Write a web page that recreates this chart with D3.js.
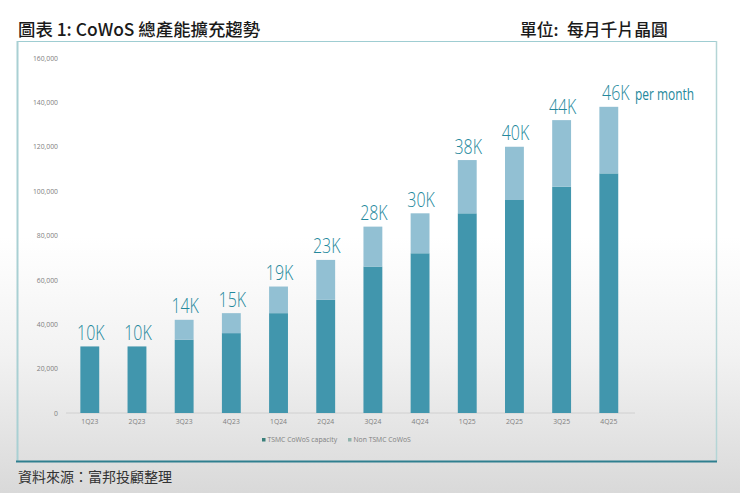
<!DOCTYPE html>
<html>
<head>
<meta charset="utf-8">
<script src="https://cdn.jsdelivr.net/npm/d3@7"></script>
<style>
  html, body { margin: 0; padding: 0; background: #fff; }
  svg { display: block; }
</style>
</head>
<body>
<script>
// values
const quarters = ['1Q23', '2Q23', '3Q23', '4Q23', '1Q24', '2Q24', '3Q24', '4Q24', '1Q25', '2Q25', '3Q25', '4Q25'];
const tsmcCapacity = [30000, 30000, 33000, 36000, 45000, 51000, 66000, 72000, 90000, 96000, 102000, 108000];
const nonTsmc = [0, 0, 9000, 9000, 12000, 18000, 18000, 18000, 24000, 24000, 30000, 30000];
const barLabels = ['10K', '10K', '14K', '15K', '19K', '23K', '28K', '30K', '38K', '40K', '44K', '46K'];
const yTicks = [0, 20000, 40000, 60000, 80000, 100000, 120000, 140000, 160000];
const seriesNames = ['TSMC CoWoS capacity', 'Non TSMC CoWoS'];

const width = 740;
const height = 493;
const cjk = '"Noto Sans CJK TC", "Noto Sans", sans-serif';
const axisFont = '"Open Sans", "Noto Sans", sans-serif';
const labelFont = '"Open Sans", "Noto Sans", sans-serif';

const svg = d3.select('body').append('svg')
  .attr('width', width)
  .attr('height', height);

// page fades from white to grey in the lower half
const defs = svg.append('defs');
const fade = defs.append('linearGradient')
  .attr('id', 'fade')
  .attr('x1', 0).attr('x2', 0).attr('y1', 0).attr('y2', 1);
fade.append('stop').attr('offset', '48%').attr('stop-color', '#ffffff');
fade.append('stop').attr('offset', '72%').attr('stop-color', '#f2f2f2');
fade.append('stop').attr('offset', '100%').attr('stop-color', '#d9d9d9');

svg.append('rect')
  .attr('width', width)
  .attr('height', height)
  .attr('fill', 'url(#fade)');

// frame
svg.append('line').attr('x1', 17).attr('x2', 717).attr('y1', 41.5).attr('y2', 41.5)
  .attr('stroke', '#9fcdd2').attr('stroke-width', 1);
svg.append('line').attr('x1', 17.5).attr('x2', 17.5).attr('y1', 41).attr('y2', 461)
  .attr('stroke', '#a9d0d3').attr('stroke-width', 2);
svg.append('line').attr('x1', 716.5).attr('x2', 716.5).attr('y1', 41).attr('y2', 461)
  .attr('stroke', '#b4d5d6').attr('stroke-width', 1.5);
svg.append('line').attr('x1', 16).attr('x2', 717).attr('y1', 461.5).attr('y2', 461.5)
  .attr('stroke', '#2f7f8f').attr('stroke-width', 2);

// headings
svg.append('text').attr('x', 18).attr('y', 36)
  .attr('font-family', cjk).attr('font-size', 17.4).attr('font-weight', 500).attr('fill', '#1a1a1a')
  .text('圖表 1: CoWoS 總產能擴充趨勢');
svg.append('text').attr('x', 520).attr('y', 36)
  .attr('font-family', cjk).attr('font-size', 16.8).attr('font-weight', 500).attr('fill', '#1a1a1a')
  .text('單位:');
svg.append('text').attr('x', 567).attr('y', 36)
  .attr('font-family', cjk).attr('font-size', 16.8).attr('font-weight', 500).attr('fill', '#1a1a1a')
  .text('每月千片晶圓');
svg.append('text').attr('x', 18).attr('y', 482)
  .attr('font-family', cjk).attr('font-size', 14).attr('fill', '#333333')
  .text('資料來源：富邦投顧整理');

const x = d3.scaleBand()
  .domain(quarters)
  .range([66.2, 632.4])
  .paddingInner(0.6)
  .paddingOuter(0.3);

const y = d3.scaleLinear()
  .domain([0, 160000])
  .range([413, 58]);

// axes
const xAxis = svg.append('g')
  .attr('transform', `translate(0, ${y(0)})`)
  .call(d3.axisBottom(x).tickSize(0).tickPadding(6));
xAxis.select('.domain').attr('stroke', '#d0d0d0').attr('d', 'M66,0H635');
xAxis.selectAll('text')
  .attr('font-family', axisFont).attr('font-size', 6.8).attr('fill', '#808080');

const yAxis = svg.append('g')
  .attr('transform', 'translate(58, 0)')
  .call(d3.axisLeft(y).tickValues(yTicks).tickSize(0).tickPadding(0).tickFormat(d3.format(',')));
yAxis.select('.domain').remove();
yAxis.selectAll('text')
  .attr('font-family', axisFont).attr('font-size', 6.8).attr('fill', '#808080');

// stacked bars
svg.append('g').selectAll('rect')
  .data(quarters)
  .join('rect')
  .attr('x', d => x(d))
  .attr('y', (d, i) => y(tsmcCapacity[i]))
  .attr('width', x.bandwidth())
  .attr('height', (d, i) => y(0) - y(tsmcCapacity[i]))
  .attr('fill', '#4196ad');

svg.append('g').selectAll('rect')
  .data(quarters)
  .join('rect')
  .attr('x', d => x(d))
  .attr('y', (d, i) => y(tsmcCapacity[i] + nonTsmc[i]))
  .attr('width', x.bandwidth())
  .attr('height', (d, i) => y(tsmcCapacity[i]) - y(tsmcCapacity[i] + nonTsmc[i]))
  .attr('fill', '#92c0d3');

// thin condensed labels above the bars, the last one sits a bit to the right
const lastQuarter = quarters[quarters.length - 1];
svg.append('g').selectAll('text')
  .data(quarters)
  .join('text')
  .attr('transform', (d, i) => {
    const cx = x(d) + x.bandwidth() / 2 + (d === lastQuarter ? 7 : 1);
    return `translate(${cx}, ${y(tsmcCapacity[i] + nonTsmc[i]) - 6.5}) scale(0.76, 1)`;
  })
  .attr('text-anchor', 'middle')
  .attr('font-family', labelFont)
  .attr('font-weight', 300)
  .attr('font-size', 21)
  .attr('fill', '#23889c')
  .text((d, i) => barLabels[i]);

svg.append('text')
  .attr('transform', 'translate(635, 100) scale(0.77, 1)')
  .attr('font-family', labelFont)
  .attr('font-size', 15.5)
  .attr('fill', '#23889c')
  .text('per month');

// legend
const legendX = [262, 348];
const legendColors = ['#3a7f7a', '#8fb3ad'];
const legend = svg.append('g').selectAll('g')
  .data(seriesNames)
  .join('g')
  .attr('transform', (d, i) => `translate(${legendX[i]}, 440)`);
legend.append('rect')
  .attr('y', -2).attr('width', 3.5).attr('height', 3.5)
  .attr('fill', (d, i) => legendColors[i]);
legend.append('text')
  .attr('x', 5.5).attr('y', 0)
  .attr('dominant-baseline', 'middle')
  .attr('font-family', axisFont).attr('font-size', 6.8).attr('fill', '#808080')
  .text(d => d);
</script>
</body>
</html>
